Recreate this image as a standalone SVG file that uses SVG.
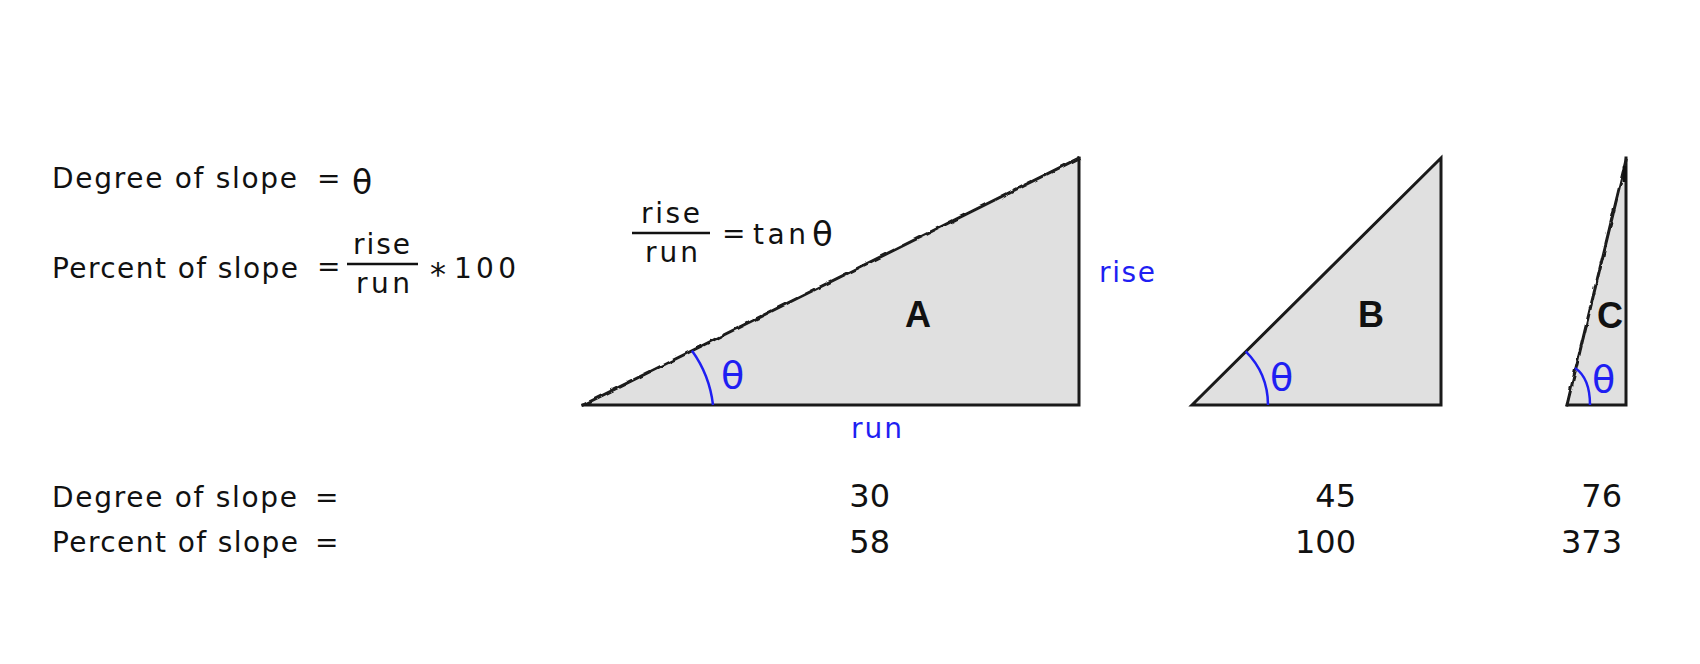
<svg xmlns="http://www.w3.org/2000/svg" width="1700" height="664" viewBox="0 0 1700 664">
<style>
  .t { font-family: "DejaVu Sans", "Liberation Sans", sans-serif; font-size: 28px; fill: #111; }
  .num { font-family: "DejaVu Sans", "Liberation Sans", sans-serif; font-size: 32px; fill: #111; text-anchor: end; }
  .th { font-family: "DejaVu Sans", sans-serif; font-size: 38px; }
  .blue { fill: #1f1ff2; }
  .lbl { font-family: "Liberation Sans", Arial, sans-serif; font-size: 36px; font-weight: bold; fill: #111; text-anchor: middle; }
  .fillt { fill: #e0e0e0; stroke: none; }
  .edge { fill: none; stroke: #1a1a1a; stroke-width: 3; stroke-linejoin: miter; stroke-linecap: square; }
  .arc { fill: none; stroke: #1f1ff2; stroke-width: 2.5; }
  .bar { stroke: #111; stroke-width: 2.5; }
</style>
<defs>
  <filter id="jag" filterUnits="userSpaceOnUse" x="0" y="0" width="1700" height="664">
    <feTurbulence type="fractalNoise" baseFrequency="0.12" numOctaves="1" seed="4" result="n"/>
    <feDisplacementMap in="SourceGraphic" in2="n" scale="3.5" xChannelSelector="R" yChannelSelector="G"/>
  </filter>
</defs>
<rect width="1700" height="664" fill="#ffffff"/>

<g id="formulas">
  <text class="t" x="52" y="188" textLength="245" lengthAdjust="spacing">Degree of slope</text>
  <text class="t" x="317" y="188">=</text>
  <text class="t th" x="352" y="194" style="font-size:33px">θ</text>

  <text class="t" x="52" y="278" textLength="246" lengthAdjust="spacing">Percent of slope</text>
  <text class="t" x="317" y="276">=</text>
  <text class="t" x="353" y="254" textLength="57" lengthAdjust="spacing">rise</text>
  <line class="bar" x1="347" y1="264" x2="418" y2="264"/>
  <text class="t" x="356" y="293" textLength="54" lengthAdjust="spacing">run</text>
  <text class="t" x="430" y="285" style="font-size:32px">*</text>
  <text class="t" x="454" y="278" textLength="62" lengthAdjust="spacing">100</text>
</g>

<g id="tan-formula">
  <text class="t" x="641" y="223" textLength="59" lengthAdjust="spacing">rise</text>
  <line class="bar" x1="632" y1="233" x2="710" y2="233"/>
  <text class="t" x="645" y="262" textLength="53" lengthAdjust="spacing">run</text>
  <text class="t" x="722" y="243">=</text>
  <text class="t" x="753" y="244" textLength="53" lengthAdjust="spacing">tan</text>
  <text class="t th" x="812" y="246" style="font-size:34px">θ</text>
</g>

<g id="triangle-A">
  <polygon class="fillt" points="583,405 1079,158 1079,405"/>
  <polyline class="edge" points="1079,158 1079,405 583,405"/>
  <line class="edge" x1="583" y1="405" x2="1079" y2="158" filter="url(#jag)"/>
  <path class="arc" d="M 692 350.7 A 115 115 0 0 1 713 405"/>
  <text class="th blue" x="721" y="388">θ</text>
  <text class="lbl" x="918" y="327">A</text>
  <text class="t blue" x="1099" y="282" textLength="56" lengthAdjust="spacing">rise</text>
  <text class="t blue" x="851" y="438" textLength="51" lengthAdjust="spacing">run</text>
</g>

<g id="triangle-B">
  <polygon class="fillt" points="1192,405 1441,158 1441,405"/>
  <polygon class="edge" points="1192,405 1441,158 1441,405"/>
  <path class="arc" d="M 1245.7 351.3 A 76 76 0 0 1 1268 405"/>
  <text class="th blue" x="1270" y="390">θ</text>
  <text class="lbl" x="1371" y="327">B</text>
</g>

<g id="triangle-C">
  <polygon class="fillt" points="1567,405 1626,158 1626,405"/>
  <polyline class="edge" points="1626,158 1626,405 1567,405"/>
  <line class="edge" x1="1567" y1="405" x2="1626" y2="160" filter="url(#jag)"/>
  <line x1="1624.5" y1="166" x2="1624.5" y2="182" stroke="#111" stroke-width="3.5"/>
  <path class="arc" d="M 1575 368 Q 1590 378 1590 405"/>
  <text class="th blue" x="1592" y="392">θ</text>
  <text class="lbl" x="1610" y="328">C</text>
</g>

<g id="results">
  <text class="t" x="52" y="507" textLength="245" lengthAdjust="spacing">Degree of slope</text>
  <text class="t" x="315" y="507">=</text>
  <text class="t" x="52" y="552" textLength="246" lengthAdjust="spacing">Percent of slope</text>
  <text class="t" x="315" y="552">=</text>
  <text class="num" x="890" y="507">30</text>
  <text class="num" x="890" y="553">58</text>
  <text class="num" x="1356" y="507">45</text>
  <text class="num" x="1356" y="553">100</text>
  <text class="num" x="1622" y="507">76</text>
  <text class="num" x="1622" y="553">373</text>
</g>
</svg>
